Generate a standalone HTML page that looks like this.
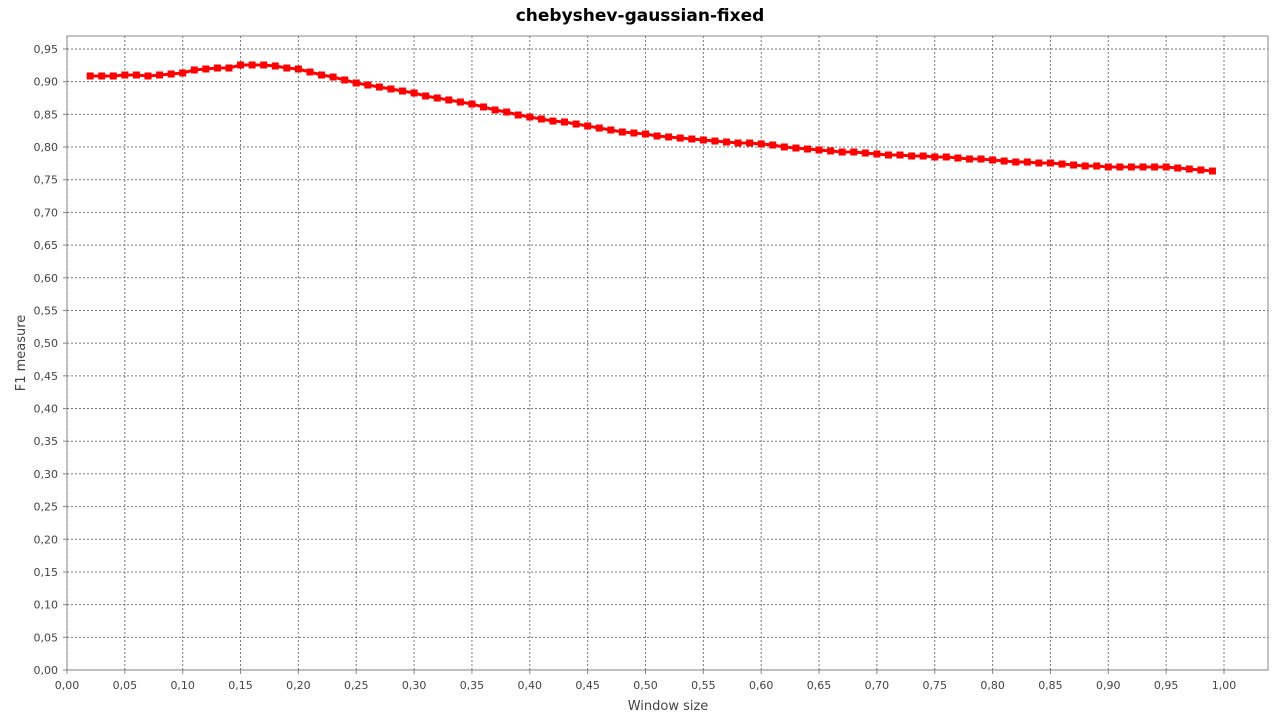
<!DOCTYPE html>
<html><head><meta charset="utf-8"><style>
body{margin:0;background:#fff;width:1280px;height:720px;overflow:hidden}
svg text{font-family:"DejaVu Sans","Liberation Sans",sans-serif;fill:#444}
</style></head><body>
<svg id="chart" width="1280" height="720" xmlns="http://www.w3.org/2000/svg">
<text x="640" y="21" text-anchor="middle" font-size="17" font-weight="bold" style="fill:#000">chebyshev-gaussian-fixed</text>
<rect x="67" y="36" width="1201" height="634" fill="#fff" stroke="#888"/>
<g id="grid"></g><g id="axes"></g><g id="series"></g>
<text x="668" y="710" text-anchor="middle" font-size="13">Window size</text>
<text transform="translate(25,353) rotate(-90)" text-anchor="middle" font-size="13">F1 measure</text>
</svg>
<script>
const xValues=[];for(let i=2;i<=99;i++)xValues.push(i/100);
const f1Values=[.9087,.9087,.9087,.9102,.9102,.9087,.9102,.9117,.9133,.9179,.9194,.9209,.9209,.9255,.9255,.9255,.924,.9209,.9194,.9148,.9102,.9071,.9026,.898,.8949,.8918,.8888,.8857,.8827,.8781,.875,.872,.8689,.8658,.8613,.8567,.8536,.849,.846,.8429,.8398,.8383,.8352,.8322,.8291,.8261,.823,.8215,.82,.8169,.8154,.8138,.8123,.8108,.8092,.8077,.8062,.8062,.8047,.8031,.8001,.7985,.797,.7955,.794,.7924,.7924,.7909,.7894,.7878,.7878,.7863,.7863,.7848,.7848,.7832,.7817,.7817,.7802,.7786,.7771,.7771,.7756,.7756,.774,.7725,.771,.771,.7695,.7695,.7695,.7695,.7695,.7695,.7679,.7664,.7649,.7633];
const xTicks=[];for(let i=0;i<=20;i++)xTicks.push(i*0.05);
const yTicks=[];for(let i=0;i<=19;i++)yTicks.push(i*0.05);
const NS="http://www.w3.org/2000/svg";
const sx=v=>67+v*1157, sy=v=>670-v*653.7;
const grid=document.getElementById('grid'),axes=document.getElementById('axes'),ser=document.getElementById('series');
function mk(tag,attrs,parent){const e=document.createElementNS(NS,tag);for(const k in attrs)e.setAttribute(k,attrs[k]);parent.appendChild(e);return e;}
xTicks.forEach(t=>{const x=sx(t);
 const g=mk('line',{x1:x,x2:x,y1:36,y2:670,stroke:'#777','stroke-width':1,'stroke-dasharray':'2,2'},grid);
 
 
 mk('line',{x1:x,x2:x,y1:670,y2:674,stroke:'#888'},axes);
 const l=mk('text',{x:x,y:689,'text-anchor':'middle','font-size':11},axes);l.textContent=t.toFixed(2).replace('.',',');
 
 });
yTicks.forEach(t=>{const y=sy(t);
 const g=mk('line',{x1:67,x2:1268,y1:y,y2:y,stroke:'#777','stroke-width':1,'stroke-dasharray':'2,2'},grid);
 
 
 mk('line',{x1:63,x2:67,y1:y,y2:y,stroke:'#888'},axes);
 const l=mk('text',{x:58,y:y+4,'text-anchor':'end','font-size':11},axes);l.textContent=t.toFixed(2).replace('.',',');
 
 });
const pts=xValues.map((x,i)=>sx(x)+','+sy(f1Values[i])).join(' ');
const pl=mk('polyline',{points:pts,fill:'none',stroke:'#f00','stroke-width':3},ser);


xValues.forEach((x,i)=>{const r=mk('rect',{x:sx(x)-3.5,y:sy(f1Values[i])-3.5,width:7,height:7,fill:'#f00'},ser);
 
 });
</script>
</body></html>
